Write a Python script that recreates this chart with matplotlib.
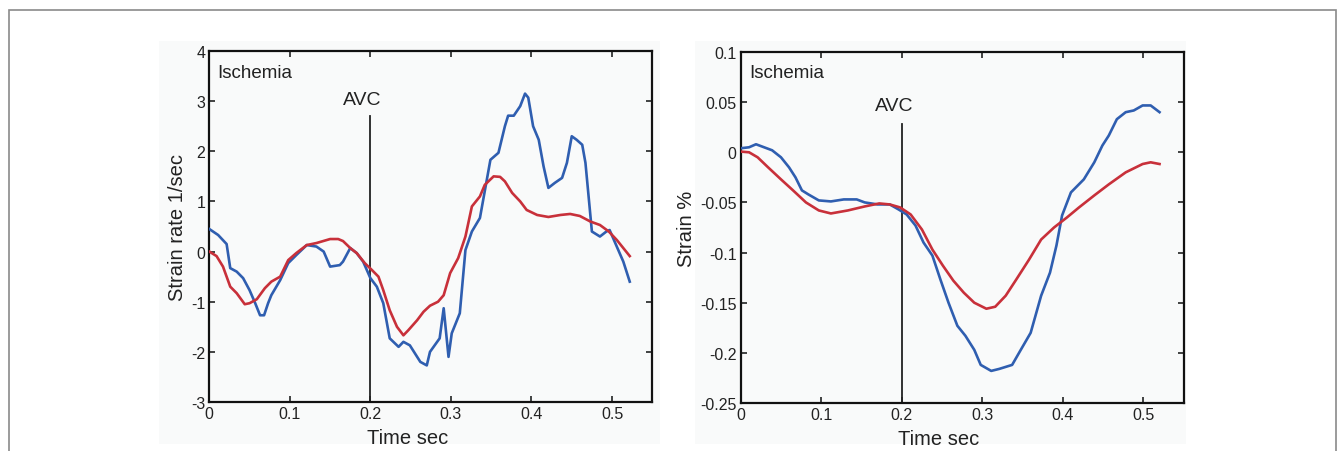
import numpy as np
import matplotlib.pyplot as plt
from matplotlib.patches import Rectangle
from matplotlib.ticker import FuncFormatter

plt.rcParams['font.family'] = ['Liberation Sans', 'DejaVu Sans']
plt.rcParams['axes.unicode_minus'] = False

# Strain rate (1/sec), ischemic segment
sr_blue_t = [0, 0.011, 0.0215, 0.026, 0.034, 0.042, 0.05, 0.057, 0.063, 0.068, 0.073, 0.077,
             0.088, 0.098, 0.108, 0.121, 0.133, 0.142, 0.15, 0.162, 0.166, 0.175, 0.183, 0.191,
             0.2, 0.208, 0.216, 0.224, 0.235, 0.241, 0.249, 0.262, 0.27, 0.274, 0.286, 0.291,
             0.297, 0.301, 0.311, 0.318, 0.326, 0.336, 0.349, 0.359, 0.367, 0.371, 0.378, 0.386,
             0.392, 0.396, 0.402, 0.409, 0.415, 0.421, 0.429, 0.438, 0.444, 0.45, 0.456, 0.463,
             0.467, 0.475, 0.485, 0.493, 0.497, 0.504, 0.514, 0.522]
sr_blue = [0.45, 0.33, 0.15, -0.33, -0.4, -0.53, -0.77, -1.03, -1.27, -1.27, -1.03, -0.87,
           -0.57, -0.23, -0.07, 0.13, 0.1, 0.0, -0.3, -0.27, -0.2, 0.07, -0.03, -0.2,
           -0.53, -0.7, -1.03, -1.73, -1.9, -1.8, -1.87, -2.2, -2.27, -2.0, -1.73, -1.13,
           -2.1, -1.63, -1.23, 0.03, 0.4, 0.67, 1.83, 1.97, 2.5, 2.71, 2.71, 2.9,
           3.15, 3.07, 2.5, 2.23, 1.7, 1.27, 1.37, 1.47, 1.77, 2.3, 2.23, 2.13,
           1.77, 0.4, 0.3, 0.4, 0.43, 0.17, -0.2, -0.6]

sr_red_t = [0, 0.009, 0.017, 0.026, 0.034, 0.044, 0.05, 0.059, 0.069, 0.077, 0.088, 0.098,
            0.108, 0.121, 0.133, 0.15, 0.16, 0.166, 0.175, 0.183, 0.193, 0.202, 0.21, 0.216,
            0.224, 0.233, 0.241, 0.247, 0.258, 0.266, 0.274, 0.284, 0.291, 0.299, 0.309, 0.318,
            0.326, 0.336, 0.342, 0.353, 0.361, 0.367, 0.376, 0.386, 0.394, 0.407, 0.421, 0.436,
            0.448, 0.46, 0.473, 0.485, 0.496, 0.506, 0.516, 0.522]
sr_red = [0, -0.09, -0.3, -0.7, -0.83, -1.05, -1.03, -0.95, -0.73, -0.6, -0.5, -0.17,
          -0.03, 0.13, 0.17, 0.25, 0.25, 0.21, 0.07, -0.03, -0.23, -0.37, -0.5, -0.77,
          -1.17, -1.5, -1.67, -1.57, -1.37, -1.2, -1.08, -1.0, -0.87, -0.43, -0.13, 0.3,
          0.9, 1.1, 1.33, 1.5, 1.49, 1.4, 1.17, 1.0, 0.83, 0.73, 0.69, 0.73,
          0.75, 0.71, 0.6, 0.53, 0.4, 0.23, 0.03, -0.09]

# Strain (%), ischemic segment
st_blue_t = [0, 0.0104, 0.019, 0.029, 0.039, 0.05, 0.06, 0.068, 0.076, 0.084, 0.097, 0.112,
             0.128, 0.144, 0.154, 0.17, 0.185, 0.196, 0.206, 0.217, 0.227, 0.238, 0.248, 0.258,
             0.269, 0.279, 0.29, 0.298, 0.311, 0.321, 0.337, 0.347, 0.36, 0.373, 0.384, 0.392,
             0.399, 0.41, 0.426, 0.439, 0.449, 0.457, 0.467, 0.478, 0.488, 0.499, 0.509, 0.52]
st_blue = [0.004, 0.005, 0.008, 0.005, 0.002, -0.005, -0.015, -0.025, -0.038, -0.042, -0.048, -0.049,
           -0.047, -0.047, -0.05, -0.052, -0.052, -0.057, -0.062, -0.073, -0.09, -0.103, -0.127, -0.15,
           -0.173, -0.183, -0.197, -0.212, -0.218, -0.216, -0.212, -0.198, -0.18, -0.143, -0.12, -0.093,
           -0.063, -0.04, -0.027, -0.01, 0.0067, 0.0167, 0.033, 0.04, 0.0417, 0.0467, 0.0467, 0.04]

st_red_t = [0, 0.0104, 0.021, 0.034, 0.05, 0.065, 0.081, 0.097, 0.112, 0.133, 0.154, 0.172,
            0.185, 0.198, 0.211, 0.225, 0.238, 0.251, 0.264, 0.277, 0.29, 0.305, 0.316, 0.329,
            0.342, 0.358, 0.373, 0.389, 0.405, 0.42, 0.439, 0.457, 0.478, 0.499, 0.509, 0.52]
st_red = [0.0007, 0, -0.005, -0.015, -0.027, -0.038, -0.05, -0.058, -0.061, -0.058, -0.054, -0.051,
          -0.052, -0.055, -0.062, -0.077, -0.097, -0.113, -0.128, -0.14, -0.15, -0.156, -0.154, -0.143,
          -0.127, -0.107, -0.087, -0.075, -0.065, -0.055, -0.043, -0.032, -0.02, -0.0117, -0.01, -0.0117]

avc_time = 0.2
x_ticks = [0, 0.1, 0.2, 0.3, 0.4, 0.5]
sr_ticks = [-3, -2, -1, 0, 1, 2, 3, 4]
st_ticks = [-0.25, -0.2, -0.15, -0.1, -0.05, 0, 0.05, 0.1]

BLUE = '#2f5eb0'
RED = '#c8303a'
BG = '#f9fafa'

W, H = 1341, 452
fig = plt.figure(figsize=(W / 100, H / 100), dpi=100)
fig.patch.set_facecolor('white')

# outer frame, open at the bottom
fig.patches.append(Rectangle((9 / W, -0.05), (1336 - 9) / W, (H - 10.5) / H + 0.05,
                             transform=fig.transFigure, fill=False,
                             edgecolor='#8a8a8a', lw=1.2, zorder=-10))
# soft panel backgrounds
fig.patches.append(Rectangle((159 / W, (H - 445) / H), (660 - 159) / W, (445 - 42) / H,
                             transform=fig.transFigure, facecolor=BG, edgecolor='none', zorder=-10))
fig.patches.append(Rectangle((695 / W, (H - 445) / H), (1186 - 695) / W, (445 - 42) / H,
                             transform=fig.transFigure, facecolor=BG, edgecolor='none', zorder=-10))

ax1 = fig.add_axes([209.3 / W, (H - 403) / H, 443 / W, 351 / H])
ax2 = fig.add_axes([740.7 / W, (H - 404) / H, 443 / W, 351 / H])

fmt = FuncFormatter(lambda v, p: '%g' % round(v, 4))

panels = [
    (ax1, sr_blue_t, sr_blue, sr_red_t, sr_red, sr_ticks, (-3, 4), 'Strain rate 1/sec', 3.58, 3.04, 2.7),
    (ax2, st_blue_t, st_blue, st_red_t, st_red, st_ticks, (-0.25, 0.1), 'Strain %', 0.08, 0.047, 0.028),
]

for ax, bt, bv, rt, rv, yt, ylim, ylab, isch_y, avc_y, line_top in panels:
    ax.set_facecolor(BG)
    ax.plot(bt, bv, color=BLUE, lw=1.9, zorder=3)
    ax.plot(rt, rv, color=RED, lw=1.9, zorder=3)
    ax.plot([avc_time, avc_time], [ylim[0], line_top], color='#222222', lw=1.3, zorder=2)
    ax.text(avc_time - 0.01, avc_y, 'AVC', ha='center', va='center', fontsize=14, color='#222222')
    ax.text(0.01, isch_y, 'Ischemia', ha='left', va='center', fontsize=13.5, color='#222222')
    ax.set_xlim(0, 0.55)
    ax.set_ylim(*ylim)
    ax.set_xticks(x_ticks)
    ax.set_yticks(yt)
    ax.xaxis.set_major_formatter(fmt)
    ax.yaxis.set_major_formatter(fmt)
    ax.tick_params(direction='in', top=True, right=True, length=4, width=1.2,
                   labelsize=11.5, colors='#222222', pad=3)
    for s in ax.spines.values():
        s.set_linewidth(1.6)
        s.set_color('#111111')
    ax.set_xlabel('Time sec', fontsize=14.5, color='#222222')
    ax.xaxis.set_label_coords(0.447, -0.075)
    ax.set_ylabel(ylab, fontsize=14.5, color='#222222', labelpad=3)

fig.savefig('out.png', dpi=100, facecolor='white')
